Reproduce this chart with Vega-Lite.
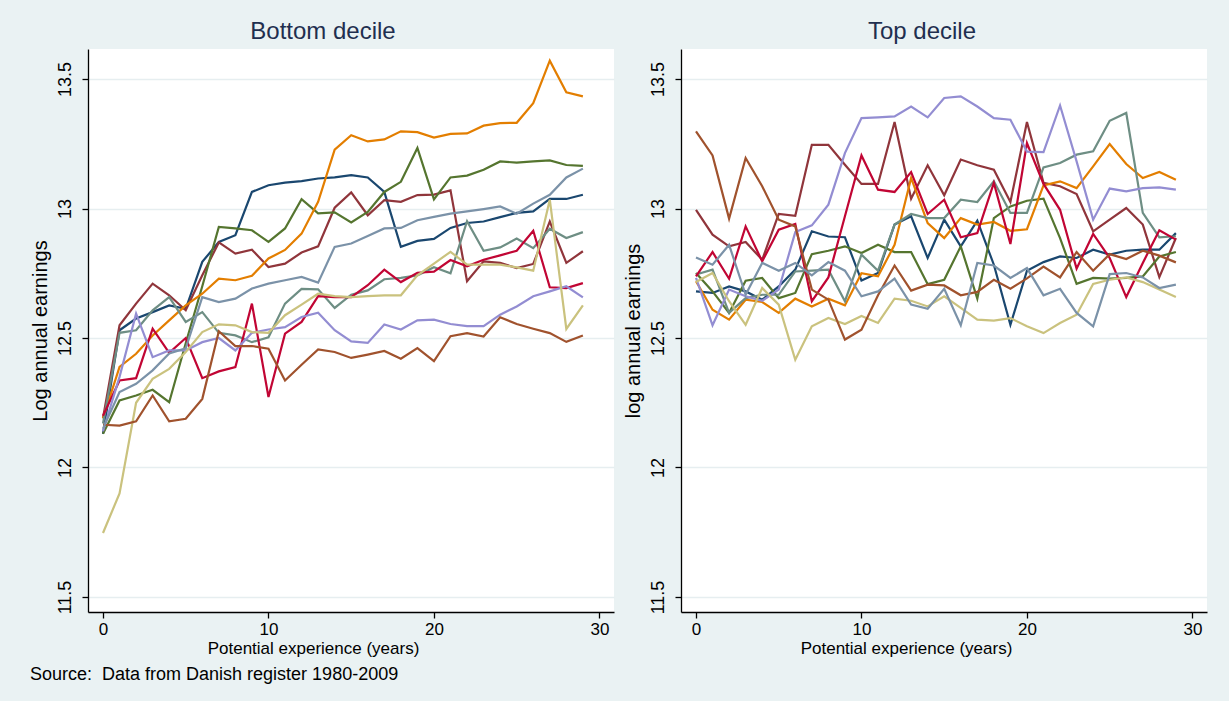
{
  "$schema": "https://vega.github.io/schema/vega-lite/v6.json",
  "background": "#eaf2f3",
  "padding": {"left": 29, "top": 20, "right": 22, "bottom": 17},
  "spacing": 8,
  "title": {
    "text": "Source:\u00a0\u00a0Data from Danish register 1980-2009",
    "orient": "bottom",
    "anchor": "start",
    "font": "Liberation Sans",
    "fontSize": 18,
    "fontWeight": "normal",
    "color": "#000000",
    "offset": 10
  },
  "config": {
    "view": {"fill": "#ffffff", "stroke": null},
    "axis": {
      "domainColor": "#000000", "domainWidth": 1.3,
      "tickColor": "#000000", "tickWidth": 1.3, "tickSize": 6,
      "labelColor": "#000000", "titleColor": "#000000", "titleFontWeight": "normal",
      "gridColor": "#e6eef0", "gridWidth": 1.6
    },
    "axisX": {
      "grid": false,
      "labelFont": "Liberation Sans",
      "labelFontSize": 17, "labelPadding": 3, "labelFlush": false,
      "titleFont": "Liberation Sans",
      "titleFontSize": 17, "titleX": 225, "titleY": 41,
      "titleBaseline": "alphabetic", "titleAlign": "center"
    },
    "axisY": {
      "grid": true, "labelAngle": -90, "labelFlush": false,
      "labelFont": "Liberation Sans", "labelFontSize": 18, "labelPadding": 8,
      "titleFont": "Liberation Sans", "titleFontSize": 20, "titlePadding": 6
    }
  },
  "datasets": {
    "bottom": [
      {"g":1,"t":0,"v":12.13},{"g":1,"t":1,"v":12.53},{"g":1,"t":2,"v":12.575},{"g":1,"t":3,"v":12.6},{"g":1,"t":4,"v":12.626},{"g":1,"t":5,"v":12.613},{"g":1,"t":6,"v":12.794},{"g":1,"t":7,"v":12.871},{"g":1,"t":8,"v":12.897},{"g":1,"t":9,"v":13.064},{"g":1,"t":10,"v":13.09},{"g":1,"t":11,"v":13.1},{"g":1,"t":12,"v":13.106},{"g":1,"t":13,"v":13.116},{"g":1,"t":14,"v":13.12},{"g":1,"t":15,"v":13.129},{"g":1,"t":16,"v":13.12},{"g":1,"t":17,"v":13.064},{"g":1,"t":18,"v":12.852},{"g":1,"t":19,"v":12.875},{"g":1,"t":20,"v":12.883},{"g":1,"t":21,"v":12.925},{"g":1,"t":22,"v":12.944},{"g":1,"t":23,"v":12.95},{"g":1,"t":24,"v":12.967},{"g":1,"t":25,"v":12.983},{"g":1,"t":26,"v":12.989},{"g":1,"t":27,"v":13.037},{"g":1,"t":28,"v":13.037},{"g":1,"t":29,"v":13.053},
      {"g":2,"t":0,"v":12.19},{"g":2,"t":1,"v":12.549},{"g":2,"t":2,"v":12.633},{"g":2,"t":3,"v":12.71},{"g":2,"t":4,"v":12.665},{"g":2,"t":5,"v":12.607},{"g":2,"t":6,"v":12.742},{"g":2,"t":7,"v":12.869},{"g":2,"t":8,"v":12.826},{"g":2,"t":9,"v":12.841},{"g":2,"t":10,"v":12.774},{"g":2,"t":11,"v":12.787},{"g":2,"t":12,"v":12.83},{"g":2,"t":13,"v":12.854},{"g":2,"t":14,"v":13.003},{"g":2,"t":15,"v":13.062},{"g":2,"t":16,"v":12.974},{"g":2,"t":17,"v":13.032},{"g":2,"t":18,"v":13.026},{"g":2,"t":19,"v":13.052},{"g":2,"t":20,"v":13.054},{"g":2,"t":21,"v":13.07},{"g":2,"t":22,"v":12.719},{"g":2,"t":23,"v":12.796},{"g":2,"t":24,"v":12.79},{"g":2,"t":25,"v":12.77},{"g":2,"t":26,"v":12.786},{"g":2,"t":27,"v":12.95},{"g":2,"t":28,"v":12.79},{"g":2,"t":29,"v":12.835},
      {"g":3,"t":0,"v":12.13},{"g":3,"t":1,"v":12.259},{"g":3,"t":2,"v":12.278},{"g":3,"t":3,"v":12.3},{"g":3,"t":4,"v":12.252},{"g":3,"t":5,"v":12.48},{"g":3,"t":6,"v":12.7},{"g":3,"t":7,"v":12.929},{"g":3,"t":8,"v":12.923},{"g":3,"t":9,"v":12.916},{"g":3,"t":10,"v":12.871},{"g":3,"t":11,"v":12.923},{"g":3,"t":12,"v":13.036},{"g":3,"t":13,"v":12.981},{"g":3,"t":14,"v":12.985},{"g":3,"t":15,"v":12.946},{"g":3,"t":16,"v":12.987},{"g":3,"t":17,"v":13.064},{"g":3,"t":18,"v":13.103},{"g":3,"t":19,"v":13.234},{"g":3,"t":20,"v":13.035},{"g":3,"t":21,"v":13.12},{"g":3,"t":22,"v":13.127},{"g":3,"t":23,"v":13.15},{"g":3,"t":24,"v":13.182},{"g":3,"t":25,"v":13.177},{"g":3,"t":26,"v":13.182},{"g":3,"t":27,"v":13.186},{"g":3,"t":28,"v":13.168},{"g":3,"t":29,"v":13.165},
      {"g":4,"t":0,"v":12.19},{"g":4,"t":1,"v":12.388},{"g":4,"t":2,"v":12.439},{"g":4,"t":3,"v":12.51},{"g":4,"t":4,"v":12.568},{"g":4,"t":5,"v":12.626},{"g":4,"t":6,"v":12.671},{"g":4,"t":7,"v":12.729},{"g":4,"t":8,"v":12.723},{"g":4,"t":9,"v":12.74},{"g":4,"t":10,"v":12.807},{"g":4,"t":11,"v":12.84},{"g":4,"t":12,"v":12.903},{"g":4,"t":13,"v":13.026},{"g":4,"t":14,"v":13.227},{"g":4,"t":15,"v":13.283},{"g":4,"t":16,"v":13.259},{"g":4,"t":17,"v":13.267},{"g":4,"t":18,"v":13.298},{"g":4,"t":19,"v":13.295},{"g":4,"t":20,"v":13.274},{"g":4,"t":21,"v":13.288},{"g":4,"t":22,"v":13.29},{"g":4,"t":23,"v":13.32},{"g":4,"t":24,"v":13.33},{"g":4,"t":25,"v":13.331},{"g":4,"t":26,"v":13.407},{"g":4,"t":27,"v":13.571},{"g":4,"t":28,"v":13.449},{"g":4,"t":29,"v":13.433},
      {"g":5,"t":0,"v":12.17},{"g":5,"t":1,"v":12.52},{"g":5,"t":2,"v":12.53},{"g":5,"t":3,"v":12.607},{"g":5,"t":4,"v":12.658},{"g":5,"t":5,"v":12.562},{"g":5,"t":6,"v":12.6},{"g":5,"t":7,"v":12.52},{"g":5,"t":8,"v":12.51},{"g":5,"t":9,"v":12.484},{"g":5,"t":10,"v":12.503},{"g":5,"t":11,"v":12.633},{"g":5,"t":12,"v":12.69},{"g":5,"t":13,"v":12.688},{"g":5,"t":14,"v":12.616},{"g":5,"t":15,"v":12.667},{"g":5,"t":16,"v":12.684},{"g":5,"t":17,"v":12.727},{"g":5,"t":18,"v":12.732},{"g":5,"t":19,"v":12.742},{"g":5,"t":20,"v":12.773},{"g":5,"t":21,"v":12.75},{"g":5,"t":22,"v":12.951},{"g":5,"t":23,"v":12.837},{"g":5,"t":24,"v":12.85},{"g":5,"t":25,"v":12.884},{"g":5,"t":26,"v":12.847},{"g":5,"t":27,"v":12.922},{"g":5,"t":28,"v":12.886},{"g":5,"t":29,"v":12.909},
      {"g":6,"t":0,"v":12.2},{"g":6,"t":1,"v":12.336},{"g":6,"t":2,"v":12.345},{"g":6,"t":3,"v":12.536},{"g":6,"t":4,"v":12.443},{"g":6,"t":5,"v":12.5},{"g":6,"t":6,"v":12.345},{"g":6,"t":7,"v":12.371},{"g":6,"t":8,"v":12.388},{"g":6,"t":9,"v":12.633},{"g":6,"t":10,"v":12.272},{"g":6,"t":11,"v":12.517},{"g":6,"t":12,"v":12.562},{"g":6,"t":13,"v":12.662},{"g":6,"t":14,"v":12.658},{"g":6,"t":15,"v":12.658},{"g":6,"t":16,"v":12.704},{"g":6,"t":17,"v":12.764},{"g":6,"t":18,"v":12.716},{"g":6,"t":19,"v":12.752},{"g":6,"t":20,"v":12.756},{"g":6,"t":21,"v":12.801},{"g":6,"t":22,"v":12.777},{"g":6,"t":23,"v":12.802},{"g":6,"t":24,"v":12.819},{"g":6,"t":25,"v":12.837},{"g":6,"t":26,"v":12.914},{"g":6,"t":27,"v":12.696},{"g":6,"t":28,"v":12.693},{"g":6,"t":29,"v":12.712},
      {"g":7,"t":0,"v":12.14},{"g":7,"t":1,"v":12.35},{"g":7,"t":2,"v":12.594},{"g":7,"t":3,"v":12.426},{"g":7,"t":4,"v":12.452},{"g":7,"t":5,"v":12.452},{"g":7,"t":6,"v":12.484},{"g":7,"t":7,"v":12.5},{"g":7,"t":8,"v":12.452},{"g":7,"t":9,"v":12.52},{"g":7,"t":10,"v":12.533},{"g":7,"t":11,"v":12.542},{"g":7,"t":12,"v":12.581},{"g":7,"t":13,"v":12.598},{"g":7,"t":14,"v":12.53},{"g":7,"t":15,"v":12.487},{"g":7,"t":16,"v":12.481},{"g":7,"t":17,"v":12.552},{"g":7,"t":18,"v":12.533},{"g":7,"t":19,"v":12.568},{"g":7,"t":20,"v":12.571},{"g":7,"t":21,"v":12.554},{"g":7,"t":22,"v":12.546},{"g":7,"t":23,"v":12.546},{"g":7,"t":24,"v":12.59},{"g":7,"t":25,"v":12.622},{"g":7,"t":26,"v":12.661},{"g":7,"t":27,"v":12.68},{"g":7,"t":28,"v":12.7},{"g":7,"t":29,"v":12.657},
      {"g":8,"t":0,"v":11.747},{"g":8,"t":1,"v":11.9},{"g":8,"t":2,"v":12.25},{"g":8,"t":3,"v":12.342},{"g":8,"t":4,"v":12.381},{"g":8,"t":5,"v":12.446},{"g":8,"t":6,"v":12.523},{"g":8,"t":7,"v":12.553},{"g":8,"t":8,"v":12.549},{"g":8,"t":9,"v":12.523},{"g":8,"t":10,"v":12.52},{"g":8,"t":11,"v":12.588},{"g":8,"t":12,"v":12.629},{"g":8,"t":13,"v":12.671},{"g":8,"t":14,"v":12.662},{"g":8,"t":15,"v":12.658},{"g":8,"t":16,"v":12.662},{"g":8,"t":17,"v":12.665},{"g":8,"t":18,"v":12.665},{"g":8,"t":19,"v":12.742},{"g":8,"t":20,"v":12.787},{"g":8,"t":21,"v":12.833},{"g":8,"t":22,"v":12.783},{"g":8,"t":23,"v":12.783},{"g":8,"t":24,"v":12.783},{"g":8,"t":25,"v":12.773},{"g":8,"t":26,"v":12.76},{"g":8,"t":27,"v":13.034},{"g":8,"t":28,"v":12.535},{"g":8,"t":29,"v":12.626},
      {"g":9,"t":0,"v":12.165},{"g":9,"t":1,"v":12.162},{"g":9,"t":2,"v":12.178},{"g":9,"t":3,"v":12.278},{"g":9,"t":4,"v":12.178},{"g":9,"t":5,"v":12.188},{"g":9,"t":6,"v":12.265},{"g":9,"t":7,"v":12.526},{"g":9,"t":8,"v":12.469},{"g":9,"t":9,"v":12.469},{"g":9,"t":10,"v":12.459},{"g":9,"t":11,"v":12.336},{"g":9,"t":12,"v":12.397},{"g":9,"t":13,"v":12.456},{"g":9,"t":14,"v":12.446},{"g":9,"t":15,"v":12.423},{"g":9,"t":16,"v":12.436},{"g":9,"t":17,"v":12.45},{"g":9,"t":18,"v":12.42},{"g":9,"t":19,"v":12.461},{"g":9,"t":20,"v":12.411},{"g":9,"t":21,"v":12.507},{"g":9,"t":22,"v":12.519},{"g":9,"t":23,"v":12.506},{"g":9,"t":24,"v":12.58},{"g":9,"t":25,"v":12.554},{"g":9,"t":26,"v":12.536},{"g":9,"t":27,"v":12.519},{"g":9,"t":28,"v":12.485},{"g":9,"t":29,"v":12.51},
      {"g":10,"t":0,"v":12.15},{"g":10,"t":1,"v":12.291},{"g":10,"t":2,"v":12.323},{"g":10,"t":3,"v":12.375},{"g":10,"t":4,"v":12.44},{"g":10,"t":5,"v":12.46},{"g":10,"t":6,"v":12.658},{"g":10,"t":7,"v":12.639},{"g":10,"t":8,"v":12.652},{"g":10,"t":9,"v":12.691},{"g":10,"t":10,"v":12.71},{"g":10,"t":11,"v":12.723},{"g":10,"t":12,"v":12.736},{"g":10,"t":13,"v":12.714},{"g":10,"t":14,"v":12.852},{"g":10,"t":15,"v":12.865},{"g":10,"t":16,"v":12.894},{"g":10,"t":17,"v":12.923},{"g":10,"t":18,"v":12.925},{"g":10,"t":19,"v":12.955},{"g":10,"t":20,"v":12.968},{"g":10,"t":21,"v":12.98},{"g":10,"t":22,"v":12.989},{"g":10,"t":23,"v":12.998},{"g":10,"t":24,"v":13.008},{"g":10,"t":25,"v":12.98},{"g":10,"t":26,"v":13.019},{"g":10,"t":27,"v":13.053},{"g":10,"t":28,"v":13.12},{"g":10,"t":29,"v":13.154}
    ],
    "top": [
      {"g":1,"t":0,"v":12.68},{"g":1,"t":1,"v":12.674},{"g":1,"t":2,"v":12.699},{"g":1,"t":3,"v":12.68},{"g":1,"t":4,"v":12.648},{"g":1,"t":5,"v":12.699},{"g":1,"t":6,"v":12.764},{"g":1,"t":7,"v":12.912},{"g":1,"t":8,"v":12.892},{"g":1,"t":9,"v":12.889},{"g":1,"t":10,"v":12.722},{"g":1,"t":11,"v":12.751},{"g":1,"t":12,"v":12.938},{"g":1,"t":13,"v":12.97},{"g":1,"t":14,"v":12.809},{"g":1,"t":15,"v":12.957},{"g":1,"t":16,"v":12.854},{"g":1,"t":17,"v":12.953},{"g":1,"t":18,"v":12.783},{"g":1,"t":19,"v":12.551},{"g":1,"t":20,"v":12.76},{"g":1,"t":21,"v":12.793},{"g":1,"t":22,"v":12.815},{"g":1,"t":23,"v":12.809},{"g":1,"t":24,"v":12.841},{"g":1,"t":25,"v":12.822},{"g":1,"t":26,"v":12.837},{"g":1,"t":27,"v":12.841},{"g":1,"t":28,"v":12.841},{"g":1,"t":29,"v":12.905},
      {"g":2,"t":0,"v":12.995},{"g":2,"t":1,"v":12.899},{"g":2,"t":2,"v":12.854},{"g":2,"t":3,"v":12.871},{"g":2,"t":4,"v":12.802},{"g":2,"t":5,"v":12.979},{"g":2,"t":6,"v":12.972},{"g":2,"t":7,"v":13.246},{"g":2,"t":8,"v":13.246},{"g":2,"t":9,"v":13.169},{"g":2,"t":10,"v":13.095},{"g":2,"t":11,"v":13.095},{"g":2,"t":12,"v":13.334},{"g":2,"t":13,"v":13.038},{"g":2,"t":14,"v":13.167},{"g":2,"t":15,"v":13.051},{"g":2,"t":16,"v":13.189},{"g":2,"t":17,"v":13.167},{"g":2,"t":18,"v":13.15},{"g":2,"t":19,"v":13.025},{"g":2,"t":20,"v":13.334},{"g":2,"t":21,"v":13.099},{"g":2,"t":22,"v":13.086},{"g":2,"t":23,"v":13.056},{"g":2,"t":24,"v":12.912},{"g":2,"t":25,"v":12.957},{"g":2,"t":26,"v":13.002},{"g":2,"t":27,"v":12.938},{"g":2,"t":28,"v":12.735},{"g":2,"t":29,"v":12.886},
      {"g":3,"t":0,"v":12.751},{"g":3,"t":1,"v":12.68},{"g":3,"t":2,"v":12.597},{"g":3,"t":3,"v":12.721},{"g":3,"t":4,"v":12.732},{"g":3,"t":5,"v":12.654},{"g":3,"t":6,"v":12.674},{"g":3,"t":7,"v":12.824},{"g":3,"t":8,"v":12.837},{"g":3,"t":9,"v":12.854},{"g":3,"t":10,"v":12.828},{"g":3,"t":11,"v":12.86},{"g":3,"t":12,"v":12.832},{"g":3,"t":13,"v":12.832},{"g":3,"t":14,"v":12.708},{"g":3,"t":15,"v":12.725},{"g":3,"t":16,"v":12.854},{"g":3,"t":17,"v":12.652},{"g":3,"t":18,"v":12.963},{"g":3,"t":19,"v":13.008},{"g":3,"t":20,"v":13.03},{"g":3,"t":21,"v":13.038},{"g":3,"t":22,"v":12.886},{"g":3,"t":23,"v":12.709},{"g":3,"t":24,"v":12.732},{"g":3,"t":25,"v":12.729},{"g":3,"t":26,"v":12.732},{"g":3,"t":27,"v":12.738},{"g":3,"t":28,"v":12.815},{"g":3,"t":29,"v":12.832},
      {"g":4,"t":0,"v":12.719},{"g":4,"t":1,"v":12.609},{"g":4,"t":2,"v":12.571},{"g":4,"t":3,"v":12.648},{"g":4,"t":4,"v":12.639},{"g":4,"t":5,"v":12.597},{"g":4,"t":6,"v":12.652},{"g":4,"t":7,"v":12.622},{"g":4,"t":8,"v":12.652},{"g":4,"t":9,"v":12.626},{"g":4,"t":10,"v":12.75},{"g":4,"t":11,"v":12.738},{"g":4,"t":12,"v":12.86},{"g":4,"t":13,"v":13.118},{"g":4,"t":14,"v":12.944},{"g":4,"t":15,"v":12.886},{"g":4,"t":16,"v":12.963},{"g":4,"t":17,"v":12.938},{"g":4,"t":18,"v":12.948},{"g":4,"t":19,"v":12.914},{"g":4,"t":20,"v":12.92},{"g":4,"t":21,"v":13.089},{"g":4,"t":22,"v":13.105},{"g":4,"t":23,"v":13.079},{"g":4,"t":24,"v":13.163},{"g":4,"t":25,"v":13.249},{"g":4,"t":26,"v":13.172},{"g":4,"t":27,"v":13.118},{"g":4,"t":28,"v":13.141},{"g":4,"t":29,"v":13.111},
      {"g":5,"t":0,"v":12.745},{"g":5,"t":1,"v":12.764},{"g":5,"t":2,"v":12.597},{"g":5,"t":3,"v":12.654},{"g":5,"t":4,"v":12.667},{"g":5,"t":5,"v":12.667},{"g":5,"t":6,"v":12.757},{"g":5,"t":7,"v":12.76},{"g":5,"t":8,"v":12.764},{"g":5,"t":9,"v":12.642},{"g":5,"t":10,"v":12.822},{"g":5,"t":11,"v":12.76},{"g":5,"t":12,"v":12.938},{"g":5,"t":13,"v":12.979},{"g":5,"t":14,"v":12.963},{"g":5,"t":15,"v":12.963},{"g":5,"t":16,"v":13.034},{"g":5,"t":17,"v":13.025},{"g":5,"t":18,"v":13.105},{"g":5,"t":19,"v":12.983},{"g":5,"t":20,"v":12.983},{"g":5,"t":21,"v":13.159},{"g":5,"t":22,"v":13.176},{"g":5,"t":23,"v":13.208},{"g":5,"t":24,"v":13.221},{"g":5,"t":25,"v":13.339},{"g":5,"t":26,"v":13.369},{"g":5,"t":27,"v":12.983},{"g":5,"t":28,"v":12.889},{"g":5,"t":29,"v":12.893},
      {"g":6,"t":0,"v":12.738},{"g":6,"t":1,"v":12.832},{"g":6,"t":2,"v":12.729},{"g":6,"t":3,"v":12.931},{"g":6,"t":4,"v":12.796},{"g":6,"t":5,"v":12.918},{"g":6,"t":6,"v":12.94},{"g":6,"t":7,"v":12.642},{"g":6,"t":8,"v":12.734},{"g":6,"t":9,"v":12.97},{"g":6,"t":10,"v":13.205},{"g":6,"t":11,"v":13.073},{"g":6,"t":12,"v":13.064},{"g":6,"t":13,"v":13.141},{"g":6,"t":14,"v":12.979},{"g":6,"t":15,"v":13.034},{"g":6,"t":16,"v":12.889},{"g":6,"t":17,"v":12.905},{"g":6,"t":18,"v":13.099},{"g":6,"t":19,"v":12.863},{"g":6,"t":20,"v":13.253},{"g":6,"t":21,"v":13.095},{"g":6,"t":22,"v":12.995},{"g":6,"t":23,"v":12.768},{"g":6,"t":24,"v":12.902},{"g":6,"t":25,"v":12.809},{"g":6,"t":26,"v":12.658},{"g":6,"t":27,"v":12.79},{"g":6,"t":28,"v":12.916},{"g":6,"t":29,"v":12.88},
      {"g":7,"t":0,"v":12.732},{"g":7,"t":1,"v":12.549},{"g":7,"t":2,"v":12.687},{"g":7,"t":3,"v":12.661},{"g":7,"t":4,"v":12.644},{"g":7,"t":5,"v":12.687},{"g":7,"t":6,"v":12.909},{"g":7,"t":7,"v":12.935},{"g":7,"t":8,"v":13.015},{"g":7,"t":9,"v":13.214},{"g":7,"t":10,"v":13.349},{"g":7,"t":11,"v":13.352},{"g":7,"t":12,"v":13.356},{"g":7,"t":13,"v":13.394},{"g":7,"t":14,"v":13.352},{"g":7,"t":15,"v":13.427},{"g":7,"t":16,"v":13.433},{"g":7,"t":17,"v":13.394},{"g":7,"t":18,"v":13.349},{"g":7,"t":19,"v":13.343},{"g":7,"t":20,"v":13.22},{"g":7,"t":21,"v":13.218},{"g":7,"t":22,"v":13.398},{"g":7,"t":23,"v":13.182},{"g":7,"t":24,"v":12.957},{"g":7,"t":25,"v":13.077},{"g":7,"t":26,"v":13.066},{"g":7,"t":27,"v":13.079},{"g":7,"t":28,"v":13.082},{"g":7,"t":29,"v":13.073},
      {"g":8,"t":0,"v":12.716},{"g":8,"t":1,"v":12.751},{"g":8,"t":2,"v":12.642},{"g":8,"t":3,"v":12.551},{"g":8,"t":4,"v":12.693},{"g":8,"t":5,"v":12.629},{"g":8,"t":6,"v":12.416},{"g":8,"t":7,"v":12.545},{"g":8,"t":8,"v":12.577},{"g":8,"t":9,"v":12.554},{"g":8,"t":10,"v":12.585},{"g":8,"t":11,"v":12.558},{"g":8,"t":12,"v":12.652},{"g":8,"t":13,"v":12.644},{"g":8,"t":14,"v":12.622},{"g":8,"t":15,"v":12.661},{"g":8,"t":16,"v":12.616},{"g":8,"t":17,"v":12.571},{"g":8,"t":18,"v":12.567},{"g":8,"t":19,"v":12.577},{"g":8,"t":20,"v":12.545},{"g":8,"t":21,"v":12.519},{"g":8,"t":22,"v":12.558},{"g":8,"t":23,"v":12.59},{"g":8,"t":24,"v":12.709},{"g":8,"t":25,"v":12.725},{"g":8,"t":26,"v":12.734},{"g":8,"t":27,"v":12.716},{"g":8,"t":28,"v":12.687},{"g":8,"t":29,"v":12.658},
      {"g":9,"t":0,"v":13.298},{"g":9,"t":1,"v":13.205},{"g":9,"t":2,"v":12.961},{"g":9,"t":3,"v":13.195},{"g":9,"t":4,"v":13.086},{"g":9,"t":5,"v":12.957},{"g":9,"t":6,"v":12.931},{"g":9,"t":7,"v":12.687},{"g":9,"t":8,"v":12.648},{"g":9,"t":9,"v":12.494},{"g":9,"t":10,"v":12.532},{"g":9,"t":11,"v":12.665},{"g":9,"t":12,"v":12.78},{"g":9,"t":13,"v":12.683},{"g":9,"t":14,"v":12.706},{"g":9,"t":15,"v":12.703},{"g":9,"t":16,"v":12.665},{"g":9,"t":17,"v":12.678},{"g":9,"t":18,"v":12.725},{"g":9,"t":19,"v":12.69},{"g":9,"t":20,"v":12.73},{"g":9,"t":21,"v":12.776},{"g":9,"t":22,"v":12.734},{"g":9,"t":23,"v":12.832},{"g":9,"t":24,"v":12.76},{"g":9,"t":25,"v":12.824},{"g":9,"t":26,"v":12.805},{"g":9,"t":27,"v":12.837},{"g":9,"t":28,"v":12.818},{"g":9,"t":29,"v":12.792},
      {"g":10,"t":0,"v":12.811},{"g":10,"t":1,"v":12.783},{"g":10,"t":2,"v":12.86},{"g":10,"t":3,"v":12.667},{"g":10,"t":4,"v":12.79},{"g":10,"t":5,"v":12.76},{"g":10,"t":6,"v":12.79},{"g":10,"t":7,"v":12.742},{"g":10,"t":8,"v":12.793},{"g":10,"t":9,"v":12.76},{"g":10,"t":10,"v":12.661},{"g":10,"t":11,"v":12.68},{"g":10,"t":12,"v":12.729},{"g":10,"t":13,"v":12.629},{"g":10,"t":14,"v":12.613},{"g":10,"t":15,"v":12.69},{"g":10,"t":16,"v":12.549},{"g":10,"t":17,"v":12.79},{"g":10,"t":18,"v":12.78},{"g":10,"t":19,"v":12.732},{"g":10,"t":20,"v":12.77},{"g":10,"t":21,"v":12.665},{"g":10,"t":22,"v":12.69},{"g":10,"t":23,"v":12.597},{"g":10,"t":24,"v":12.545},{"g":10,"t":25,"v":12.747},{"g":10,"t":26,"v":12.751},{"g":10,"t":27,"v":12.734},{"g":10,"t":28,"v":12.693},{"g":10,"t":29,"v":12.706}
    ]
  },
  "hconcat": [
    {
      "width": 526,
      "height": 563,
      "title": {"text": "Bottom decile", "font": "Liberation Sans", "fontSize": 24, "fontWeight": "normal", "color": "#1f2f4f", "dx": -28, "offset": 5},
      "data": {"name": "bottom"},
      "mark": {"type": "line", "strokeWidth": 2.2, "clip": true},
      "encoding": {
        "x": {"field": "t", "type": "quantitative", "scale": {"domain": [-0.906, 30.88], "nice": false, "zero": false}, "axis": {"values": [0, 10, 20, 30], "title": "Potential experience (years)"}},
        "y": {"field": "v", "type": "quantitative", "scale": {"domain": [11.442, 13.616], "nice": false, "zero": false}, "axis": {"values": [11.5, 12, 12.5, 13, 13.5], "format": "~g", "title": "Log annual earnings"}},
        "color": {"field": "g", "type": "nominal", "legend": null, "scale": {"domain": [1,2,3,4,5,6,7,8,9,10], "range": ["#1a476f","#90353b","#55752f","#e37e00","#6e8e84","#c10534","#938dd2","#cac27e","#a0522d","#7b92a8"]}}
      }
    },
    {
      "width": 526,
      "height": 563,
      "title": {"text": "Top decile", "font": "Liberation Sans", "fontSize": 24, "fontWeight": "normal", "color": "#1f2f4f", "dx": -22, "offset": 5},
      "data": {"name": "top"},
      "mark": {"type": "line", "strokeWidth": 2.2, "clip": true},
      "encoding": {
        "x": {"field": "t", "type": "quantitative", "scale": {"domain": [-0.906, 30.88], "nice": false, "zero": false}, "axis": {"values": [0, 10, 20, 30], "title": "Potential experience (years)"}},
        "y": {"field": "v", "type": "quantitative", "scale": {"domain": [11.442, 13.616], "nice": false, "zero": false}, "axis": {"values": [11.5, 12, 12.5, 13, 13.5], "format": "~g", "title": "log annual earnings"}},
        "color": {"field": "g", "type": "nominal", "legend": null, "scale": {"domain": [1,2,3,4,5,6,7,8,9,10], "range": ["#1a476f","#90353b","#55752f","#e37e00","#6e8e84","#c10534","#938dd2","#cac27e","#a0522d","#7b92a8"]}}
      }
    }
  ]
}
